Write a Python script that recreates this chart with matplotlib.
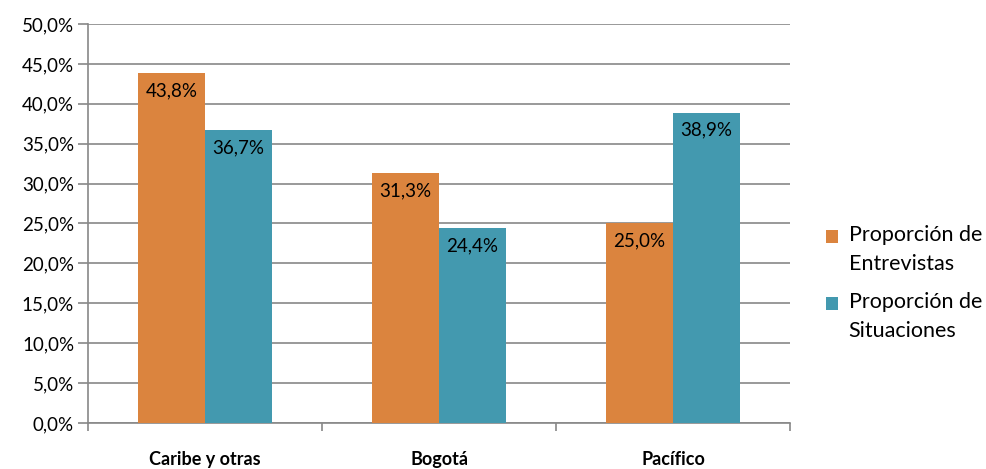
import matplotlib
matplotlib.use("Agg")
import matplotlib.pyplot as plt
import numpy as np
from matplotlib.ticker import FixedLocator, NullFormatter
from matplotlib.legend_handler import HandlerPatch, update_from_first_child
from matplotlib.patches import Rectangle
from matplotlib.container import BarContainer

categories = ["Caribe y otras", "Bogotá", "Pacífico"]
entrevistas = [43.8, 31.3, 25.0]
situaciones = [36.7, 24.4, 38.9]
series_names = ["Proporción de\nEntrevistas", "Proporción de\nSituaciones"]
yticks = np.arange(0, 50.1, 5)

plt.rcParams['font.family'] = ['Lato', 'DejaVu Sans']

fig = plt.figure(figsize=(9.86, 4.69), dpi=100)
ax = fig.add_axes([88/986, 1-423/469, 702/986, 399/469])

orange = "#DB843E"
teal = "#4399AF"
w = 0.286
x = np.arange(len(categories))
b1 = ax.bar(x - w/2, entrevistas, w, color=orange, label=series_names[0], zorder=3)
b2 = ax.bar(x + w/2, situaciones, w, color=teal, label=series_names[1], zorder=3)

for bars, vals in ((b1, entrevistas), (b2, situaciones)):
    for r, v in zip(bars, vals):
        ax.annotate(f"{v:.1f}%".replace(".", ","), (r.get_x() + r.get_width()/2, v),
                    xytext=(0, -6.5), textcoords="offset points", ha="center", va="top",
                    fontsize=13.5, color="black", zorder=4)

ax.set_xlim(-0.5, 2.5)
ax.set_ylim(0, 50)
ax.set_yticks(yticks)
ax.set_yticklabels([f"{t:.1f}%".replace(".", ",") for t in yticks], fontsize=13.5)
ax.yaxis.grid(True, color="#888888", linewidth=1.2, zorder=0)
ax.tick_params(axis="y", length=7, color="#888888", width=1.2, pad=3)

ax.xaxis.set_major_locator(FixedLocator([-0.5, 0.5, 1.5, 2.5]))
ax.xaxis.set_major_formatter(NullFormatter())
ax.xaxis.set_minor_locator(FixedLocator(x))
ax.set_xticklabels(categories, minor=True, fontsize=13, fontweight="bold")
ax.tick_params(axis="x", which="major", length=6, color="#888888", width=1.2, direction="out")
ax.tick_params(axis="x", which="minor", length=0, pad=20)

for s in ["top", "right"]:
    ax.spines[s].set_visible(False)
ax.spines["left"].set_color("#888888")
ax.spines["left"].set_linewidth(1.2)
ax.spines["bottom"].set_color("#888888")
ax.spines["bottom"].set_linewidth(1.2)

LEG_FS = 15.5

def top_square(legend, orig_handle, xdescent, ydescent, width, height, fontsize):
    dy = 0.62 * fontsize
    return Rectangle((-xdescent, -ydescent + dy), width, height)

handler = HandlerPatch(patch_func=top_square, update_func=update_from_first_child)
leg = fig.legend(loc="center left", bbox_to_anchor=(826/986, 1 - 283/469), frameon=False,
                 fontsize=LEG_FS, handlelength=0.55, handleheight=0.55, handletextpad=0.5,
                 labelspacing=0.8, borderpad=0, borderaxespad=0,
                 handler_map={BarContainer: handler})
for t in leg.get_texts():
    t.set_linespacing(1.6)

fig.savefig("out.png", dpi=100)
